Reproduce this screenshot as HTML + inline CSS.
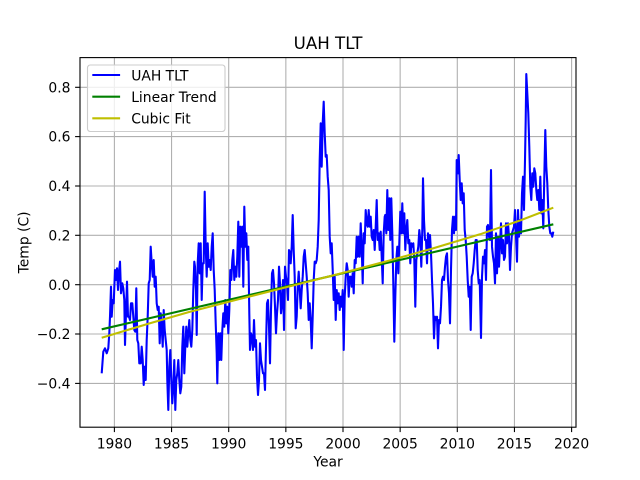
<!DOCTYPE html>
<html>
<head>
<meta charset="utf-8">
<style>
html,body{margin:0;padding:0;background:#fff;}
svg{display:block;}
text{font-family:"DejaVu Sans","Liberation Sans",sans-serif;fill:#000;}
</style>
</head>
<body>
<svg width="640" height="480" viewBox="0 0 640 480" xmlns="http://www.w3.org/2000/svg">
<rect x="0" y="0" width="640" height="480" fill="#fff"/>
<!-- grid -->
<g stroke="#b0b0b0" stroke-width="1.1" fill="none">
<line x1="114.4" y1="57.6" x2="114.4" y2="427.2"/>
<line x1="171.55" y1="57.6" x2="171.55" y2="427.2"/>
<line x1="228.7" y1="57.6" x2="228.7" y2="427.2"/>
<line x1="285.85" y1="57.6" x2="285.85" y2="427.2"/>
<line x1="343" y1="57.6" x2="343" y2="427.2"/>
<line x1="400.15" y1="57.6" x2="400.15" y2="427.2"/>
<line x1="457.3" y1="57.6" x2="457.3" y2="427.2"/>
<line x1="514.45" y1="57.6" x2="514.45" y2="427.2"/>
<line x1="571.6" y1="57.6" x2="571.6" y2="427.2"/>
<line x1="80" y1="87.3" x2="576" y2="87.3"/>
<line x1="80" y1="136.6" x2="576" y2="136.6"/>
<line x1="80" y1="186" x2="576" y2="186"/>
<line x1="80" y1="235.3" x2="576" y2="235.3"/>
<line x1="80" y1="284.7" x2="576" y2="284.7"/>
<line x1="80" y1="334" x2="576" y2="334"/>
<line x1="80" y1="383.4" x2="576" y2="383.4"/>
</g>
<!-- data -->
<polyline fill="none" stroke="#0000ff" stroke-width="2.08" stroke-linejoin="round" points="101.7,373.3 103.3,351.7 105,348.3 106.7,353.3 108.3,348.3 109.3,333.3 110,316.7 111,286.7 111.7,316.7 112.7,300 113.7,303.3 115,270 116,280 117,268.3 118,290 119,271.7 120,261.7 121,293.3 122.3,283.3 123.3,288.3 124.3,300 125,345 126,313.3 127,281.7 128,316.7 129,316.7 130,320 131,303.3 132.3,303.3 133.3,316.7 134.3,330 135.3,331.7 136.3,288.3 137.3,340 138.3,343.3 139.3,363.3 140.7,363.3 141.7,346.7 142.7,360 143.7,385 144.7,366.7 145.7,380 146.7,340 147.7,316.7 148.7,283.3 149.7,280 150.7,246.7 151.7,263.3 152.7,276.7 153.7,260 154.7,286.7 155.7,276.7 156.7,303.3 157.7,310 158.7,306.7 159.7,343.3 160.7,313.3 161.7,326.7 162.7,346.7 163.7,310 164.7,330 165.7,340 166.7,350 167.3,380 168.3,410 169.3,366.7 170.3,350 171.3,380 172.3,403.3 173.3,386.7 174.3,360 175.3,410 176.3,380 177.3,373.3 178.3,360 179.3,380 180.3,393.3 181.3,386.7 182.3,346.7 183.3,326.7 184.3,373.3 185.3,346.7 186.3,326.7 187.3,346.7 188.3,333.3 189.3,320 190.3,340 191.3,346.7 192.3,330 193.3,290 194.3,261.7 195,266.7 196,290 196.7,335 197.7,263.3 198.7,243.3 199.7,273.3 200.7,243.3 201.7,300 202.7,263.3 203.7,263.3 204.7,191.7 205.7,246.7 206.7,276.7 207.7,243.3 208.7,266.7 209.7,260 210.7,270 211.7,246.7 212.7,233.3 213.7,270 214.7,290 215.7,323.3 216.7,353.3 217.3,383.3 218.3,333.3 219.3,360 220.3,333.3 221.3,360 222.3,330 223.3,313.3 224.3,326.7 225.3,300 226.3,323.3 227.3,306.7 228.3,333.3 229.3,310 230.3,270 231.3,280 232.3,260 233.3,250 234.3,280 235.3,266.7 236.3,276.7 237.3,256.7 238.3,221.7 239.3,276.7 240.3,226.7 241.3,246.7 242.3,226.7 243.3,286.7 244.3,206.7 245.3,246.7 246.3,233.3 247.3,260 248.3,246.7 249.3,313.3 250,350 251,333.3 252,336.7 253,350 254,320 255,346.7 256,340 257,376.7 258,395 259,380 260,343.3 261,360 262,366.7 263,373.3 264,373.3 265,390 266,346.7 267,303.3 268,300 269,326.7 270,363.3 271,310 272,273.3 273,270 274,283.3 275,306.7 276,333.3 277,313.3 278,300 279,266.7 280,283.3 281,313.3 282,303.3 283,280 284,330 285,266.7 286,276.7 287,283.3 288,300 289,250 290,253.3 290.7,263.3 291.7,246.7 292.7,215 293.7,250 294.7,276.7 295.7,328.3 296.7,316.7 297.7,286.7 298.7,271.7 299.7,290 300.7,308.3 301.7,290 302.7,276.7 303.7,256.7 304.7,250 305.7,263.3 306.7,276.7 307.7,293.3 308.7,320 309.7,303.3 310.7,320 311.7,348.3 312.7,316.7 313.7,280 314.7,261.7 315.7,263.3 316.7,260 317.7,246.7 318.7,220 319.7,160 320.7,123.3 321.7,166.7 322.7,123.3 323.7,101.7 324.7,133.3 325.7,156.7 326.7,155 327.7,176.7 328.7,190 329.7,236.7 330.7,253.3 331.7,243.3 332.7,270 333.7,300 334.7,276.7 335.7,320 336.7,290 337.7,303.3 338.7,293.3 339.7,310 340.7,296.7 341.7,306.7 342.7,290 343.7,350 344.7,296.7 345.7,276.7 346.7,263.3 347.7,270 348.7,296.7 349.7,276.7 350.7,276.7 351.7,286.7 352.7,273.3 353.7,293.3 354.7,260 355.7,263.3 356.7,236.7 357.7,256.7 358.7,236.7 359.7,256.7 360.7,223.3 361.7,246.7 362.7,283.3 363.7,233.3 364.7,243.3 365.7,210 366.7,223.3 367.7,226.7 368.7,210 369.7,226.7 370.7,216.7 371.7,236.7 372.7,240 373.7,230 374.7,250 375.7,226.7 376.7,200 377.7,240 378.7,233.3 379.7,250 380.7,231.7 381.7,256.7 382.7,283.3 383.7,233.3 384.7,216.7 385.3,215 386.3,233.3 387.3,190 388.3,230 389.3,198.3 390.3,240 391.3,198.3 392.3,233.3 393.3,283.3 394.3,341.7 395.3,296.7 396.3,260 397.3,246.7 398.3,273.3 399.3,243.3 400.3,211.7 401.3,233.3 402.3,203.3 403.3,233.3 404.3,213.3 405.3,250 406.3,230 407.3,220 408.3,243.3 409.3,240 410.3,263.3 411.3,243.3 412.3,246.7 413.3,243.3 414.3,260 415.3,306.7 416.3,260 417.3,253.3 418.3,246.7 419.3,230 420.3,240 421.3,266.7 422.3,230 423,178.3 424,220 425,240 426,240 427,263.3 428,233.3 429,250 430,235 431,253.3 432,280 433,303.3 434,338.3 435,316.7 436,320 437,316.7 438,348.3 439,320 440,323.3 441,306.7 442,280 443,276.7 444,280 445,266.7 446,256.7 447,253.3 448,280 449,293.3 450,323.3 451,270 452,230 453,216.7 454,233.3 455,216.7 456,230 456.7,160 457.7,173.3 458.7,155 459.7,180 460.7,200 461.7,183.3 462.7,203.3 463.7,193.3 464.7,230 465.7,240 466.7,256.7 467.7,280 468.7,296.7 469.7,286.7 470.7,330 471.7,276.7 472.7,273.3 473.7,263.3 474.7,250 475.7,240 476.7,240 477.7,270 478.7,283.3 479.7,280 481,338 482,276.7 483,256.7 484,263.3 485,250 486,280 487,226.7 488,225 489,236.7 490,240 491,170 492,246.7 493,256.7 494,263.3 495,283.3 496,233.3 497,273.3 498,236.7 499,266.7 500,243.3 501,223.3 502,253.3 503,240 504,260 505,256.7 506,223.3 507,243.3 508,223.3 509,236.7 510,270 511,246.7 512,233.3 513,230 514,226.7 515,210 516,236.7 517,261.7 518,210 519,236.7 520,220 521,233.3 522,193.3 523,176.7 524,210 525,160 525.7,120 526.3,74 527.3,93.3 528.3,113.3 529.3,146.7 530.3,186.7 531.3,200 532.3,173.3 533.3,186.7 534.3,168.3 535.3,173.3 536.3,190 537.3,200 538.3,190 539.3,210 540.3,176.7 541.3,213.3 542.3,200 543.3,228.3 544.3,176.7 545.3,130 546.3,166.7 547.3,183.3 548.3,210 549.3,226.7 550.3,233.3 551.3,233.3 552.3,236.7 553.3,231.7"/>
<line x1="101.7" y1="329.3" x2="553.3" y2="224.3" stroke="#008000" stroke-width="2.08"/>
<polyline fill="none" stroke="#bfbf00" stroke-width="2.08" stroke-linejoin="round" points="101.7,337.7 150,323.2 190,311.7 240,298.9 290,286.3 340,273.6 385,261.7 430,249.3 480,234.3 520,220.5 553.3,207.7"/>
<!-- spines -->
<rect x="80" y="57.6" width="496" height="369.6" fill="none" stroke="#000" stroke-width="1.1"/>
<!-- ticks -->
<g stroke="#000" stroke-width="1.1">
<line x1="114.4" y1="427.2" x2="114.4" y2="432.1"/>
<line x1="171.55" y1="427.2" x2="171.55" y2="432.1"/>
<line x1="228.7" y1="427.2" x2="228.7" y2="432.1"/>
<line x1="285.85" y1="427.2" x2="285.85" y2="432.1"/>
<line x1="343" y1="427.2" x2="343" y2="432.1"/>
<line x1="400.15" y1="427.2" x2="400.15" y2="432.1"/>
<line x1="457.3" y1="427.2" x2="457.3" y2="432.1"/>
<line x1="514.45" y1="427.2" x2="514.45" y2="432.1"/>
<line x1="571.6" y1="427.2" x2="571.6" y2="432.1"/>
<line x1="75.1" y1="87.3" x2="80" y2="87.3"/>
<line x1="75.1" y1="136.6" x2="80" y2="136.6"/>
<line x1="75.1" y1="186" x2="80" y2="186"/>
<line x1="75.1" y1="235.3" x2="80" y2="235.3"/>
<line x1="75.1" y1="284.7" x2="80" y2="284.7"/>
<line x1="75.1" y1="334" x2="80" y2="334"/>
<line x1="75.1" y1="383.4" x2="80" y2="383.4"/>
</g>
<!-- tick labels -->
<g font-size="13.89" text-anchor="middle">
<text x="114.4" y="448.3">1980</text>
<text x="171.55" y="448.3">1985</text>
<text x="228.7" y="448.3">1990</text>
<text x="285.85" y="448.3">1995</text>
<text x="343" y="448.3">2000</text>
<text x="400.15" y="448.3">2005</text>
<text x="457.3" y="448.3">2010</text>
<text x="514.45" y="448.3">2015</text>
<text x="571.6" y="448.3">2020</text>
</g>
<g font-size="13.89" text-anchor="end">
<text x="70.5" y="92.35">0.8</text>
<text x="70.5" y="141.65">0.6</text>
<text x="70.5" y="191.05">0.4</text>
<text x="70.5" y="240.35">0.2</text>
<text x="70.5" y="289.75">0.0</text>
<text x="70.5" y="339.05">−0.2</text>
<text x="70.5" y="388.45">−0.4</text>
</g>
<!-- labels -->
<text x="328" y="48.8" font-size="16.67" text-anchor="middle">UAH TLT</text>
<text x="328" y="466.5" font-size="13.89" text-anchor="middle">Year</text>
<text transform="translate(28.4,242.4) rotate(-90)" font-size="13.89" text-anchor="middle">Temp (C)</text>
<!-- legend -->
<rect x="87.5" y="65" width="137.5" height="66.5" rx="2.8" ry="2.8" fill="#fff" fill-opacity="0.8" stroke="#cccccc" stroke-width="1.1"/>
<line x1="92.3" y1="75" x2="120.1" y2="75" stroke="#0000ff" stroke-width="2.08"/>
<line x1="92.3" y1="96.7" x2="120.1" y2="96.7" stroke="#008000" stroke-width="2.08"/>
<line x1="92.3" y1="118.3" x2="120.1" y2="118.3" stroke="#bfbf00" stroke-width="2.08"/>
<g font-size="13.89">
<text x="131.2" y="80.4">UAH TLT</text>
<text x="131.2" y="102.1">Linear Trend</text>
<text x="131.2" y="123.7">Cubic Fit</text>
</g>
</svg>
</body>
</html>
